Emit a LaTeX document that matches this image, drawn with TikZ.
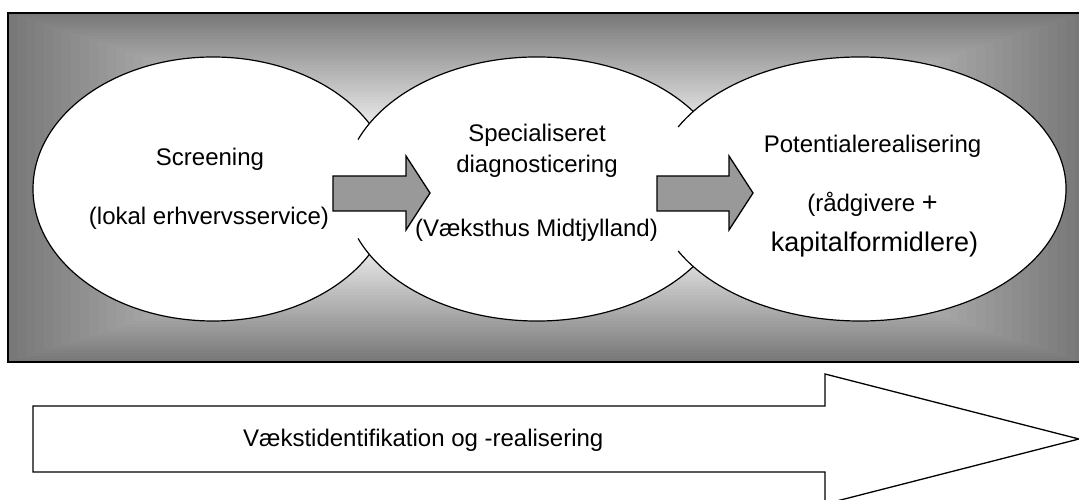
\documentclass[tikz,border=0pt]{standalone}
\usepackage{fontspec}
\setmainfont{Liberation Sans}
\usetikzlibrary{shapes.geometric}

\begin{document}
\begin{tikzpicture}[
        x=1pt, y=1pt,
        oval/.style={ellipse, fill=white, minimum height=264pt, inner sep=0pt},
        rim/.style={line width=1.2pt},
        lbl/.style={anchor=base, inner sep=0pt, font=\fontsize{24}{29}\selectfont},
        blk/.style={draw=black, line width=1.3pt, line join=miter},
        grayarrow/.style={blk, fill=black!40}
    ]
    \useasboundingbox (0,0) rectangle (1079,500);
    \clip (0,0) rectangle (1079,500);

    % Shaded frame, dark rim to light centre
    \foreach \i in {0,...,60} {
        \pgfmathsetmacro{\t}{1-\i/60}
        \pgfmathsetmacro{\pct}{53*max(0,min(1,(\t-0.25)/0.75))}
        \fill[black!\pct!white] (546-538*\t,312.5-174.5*\t) rectangle (546+538*\t,312.5+174.5*\t);
    }
    \draw[line width=1.5pt] (8,138) rectangle (1086,487);

    % Stage ovals
    \node[oval, draw, rim, minimum width=360pt] (e1) at (213,311) {};
    \node[oval, minimum width=386pt] (e2) at (537,311) {};
    \draw[rim] ([shift={(202:193 and 132)}]e2.center)
        arc[start angle=202, end angle=518, x radius=193, y radius=132];
    \node[oval, minimum width=412pt] (e3) at (860,311) {};
    \draw[rim] ([shift={(208:206 and 132)}]e3.center)
        arc[start angle=208, end angle=512, x radius=206, y radius=132];

    % Arrows between stages
    \foreach \xs/\xe in {333/406, 657/729} {
        \draw[grayarrow] (\xs,324) -- (\xe,324) -- (\xe,344) -- (\xe+24,307)
            -- (\xe,270) -- (\xe,289) -- (\xs,289) -- cycle;
    }

    % Stage texts
    \node[lbl] (s1a) at (210,334) {Screening};
    \node[lbl] (s1b) at (209,275) {(lokal erhvervsservice)};
    \node[lbl] (s2a) at (537,358) {Specialiseret};
    \node[lbl] (s2b) at (537,327) {diagnosticering};
    \node[lbl] (s2c) at (536.5,263) {(Væksthus Midtjylland)};
    \node[lbl] (s3a) at (872.5,347) {Potentialerealisering};
    \node[lbl] (s3b) at (872.5,288) {(rådgivere {\fontsize{27}{32}\selectfont +}};
    \node[lbl, font=\fontsize{27}{32}\selectfont] (s3c) at (874.5,248) {kapitalformidlere)};

    % Big process arrow
    \draw[blk, fill=white] (33,94) -- (825,94) -- (825,126) -- (1079,61)
        -- (825,-4) -- (825,28) -- (33,28) -- cycle;
    \node[lbl, anchor=base west] (flow) at (243,53) {Vækstidentifikation og -realisering};
\end{tikzpicture}
\end{document}
